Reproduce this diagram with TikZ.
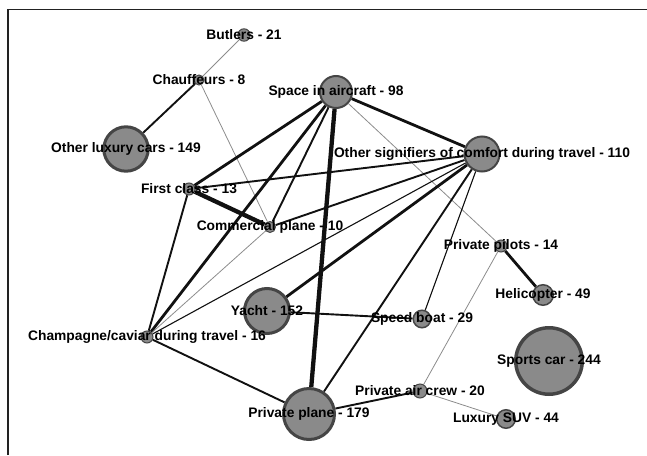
\documentclass[tikz,border=0pt]{standalone}
\usepackage{fontspec}
\setmainfont{Liberation Sans}
\usepackage{tikz}
\usetikzlibrary{backgrounds}
\definecolor{nodefill}{HTML}{8A8A8A}
\definecolor{nodeline}{HTML}{454545}
\definecolor{wire}{HTML}{111111}
\definecolor{wiregray}{HTML}{8C8C8C}
\definecolor{framecol}{HTML}{222222}

\begin{document}
\begin{tikzpicture}[x=1pt,y=-1pt,
  gnode/.style={circle,fill=nodefill,draw=nodeline,inner sep=0pt,line width=1pt},
  every label/.style={font=\bfseries\fontsize{13.8}{15}\selectfont,text=black,inner sep=0pt},
  wthin/.style={draw=wiregray,line width=0.8pt},
  wlight/.style={draw=wire,line width=1.1pt},
  wmed/.style={draw=wire,line width=1.9pt},
  wthick/.style={draw=wire,line width=2.8pt},
  wheavy/.style={draw=wire,line width=4.3pt}]
\useasboundingbox (0,0) rectangle (647,455);
\draw[framecol,line width=1.6pt] (8,455) -- (8,9.5) -- (647,9.5);
% nodes, sized by count
\node[gnode,minimum size=12.4] (butlers) at (244,35) [label={center:Butlers - 21}] {};
\node[gnode,minimum size=10] (chauf) at (199,80) [label={center:Chauffeurs - 8}] {};
\node[gnode,minimum size=44.4,line width=3pt] (luxcars) at (126,149) [label={center:Other luxury cars - 149}] {};
\node[gnode,minimum size=12] (firstcl) at (189,189) [label={center:First class - 13}] {};
\node[gnode,minimum size=11] (complane) at (270,227) [label={center:Commercial plane - 10}] {};
\node[gnode,minimum size=32,line width=2pt] (space) at (336,92) [label={center:Space in aircraft - 98}] {};
\node[gnode,minimum size=35,line width=2pt] (comfort) at (482,154) [label={center:Other signifiers of comfort during travel - 110}] {};
\node[gnode,minimum size=12] (pilots) at (501,246) [label={center:Private pilots - 14}] {};
\node[gnode,minimum size=20.5,line width=1.5pt] (heli) at (543,295) [label={center:Helicopter - 49}] {};
\node[gnode,minimum size=17.5,line width=1.5pt] (speed) at (422,319) [label={center:Speed boat - 29}] {};
\node[gnode,minimum size=66.5,line width=3.5pt] (sports) at (549,361) [label={center:Sports car - 244}] {};
\node[gnode,minimum size=14] (aircrew) at (420,391) [label={center:Private air crew - 20}] {};
\node[gnode,minimum size=18.5,line width=1.5pt] (suv) at (506,419) [label={center:Luxury SUV - 44}] {};
\node[gnode,minimum size=51,line width=3pt] (pplane) at (309,414) [label={center:Private plane - 179}] {};
\node[gnode,minimum size=45,line width=3pt] (yacht) at (267,311) [label={center:Yacht - 152}] {};
\node[gnode,minimum size=12] (champ) at (147,337) [label={center:Champagne/caviar during travel - 16}] {};
% co-occurrence links
\begin{scope}[on background layer]
\draw[wthin] (butlers) -- (chauf);
\draw[wmed] (chauf) -- (luxcars);
\draw[wthin] (chauf) -- (complane);
\draw[wthick] (space) -- (comfort);
\draw[wheavy] (space) -- (pplane);
\draw[wthick] (space) -- (firstcl);
\draw[wthick] (space) -- (champ);
\draw[wmed] (space) -- (complane);
\draw[wthin] (space) -- (pilots);
\draw[wmed] (comfort) -- (firstcl);
\draw[wmed] (comfort) -- (complane);
\draw[wlight] (comfort) -- (champ);
\draw[wthick] (comfort) -- (yacht);
\draw[wmed] (comfort) -- (pplane);
\draw[wlight] (comfort) -- (speed);
\draw[wheavy] (firstcl) -- (complane);
\draw[wmed] (firstcl) -- (champ);
\draw[wthin] (complane) -- (champ);
\draw[wmed] (champ) -- (pplane);
\draw[wmed] (yacht) -- (speed);
\draw[wmed] (pplane) -- (aircrew);
\draw[wthick] (pilots) -- (heli);
\draw[wthin] (pilots) -- (aircrew);
\draw[wthin] (aircrew) -- (suv);
\end{scope}
\end{tikzpicture}
\end{document}
